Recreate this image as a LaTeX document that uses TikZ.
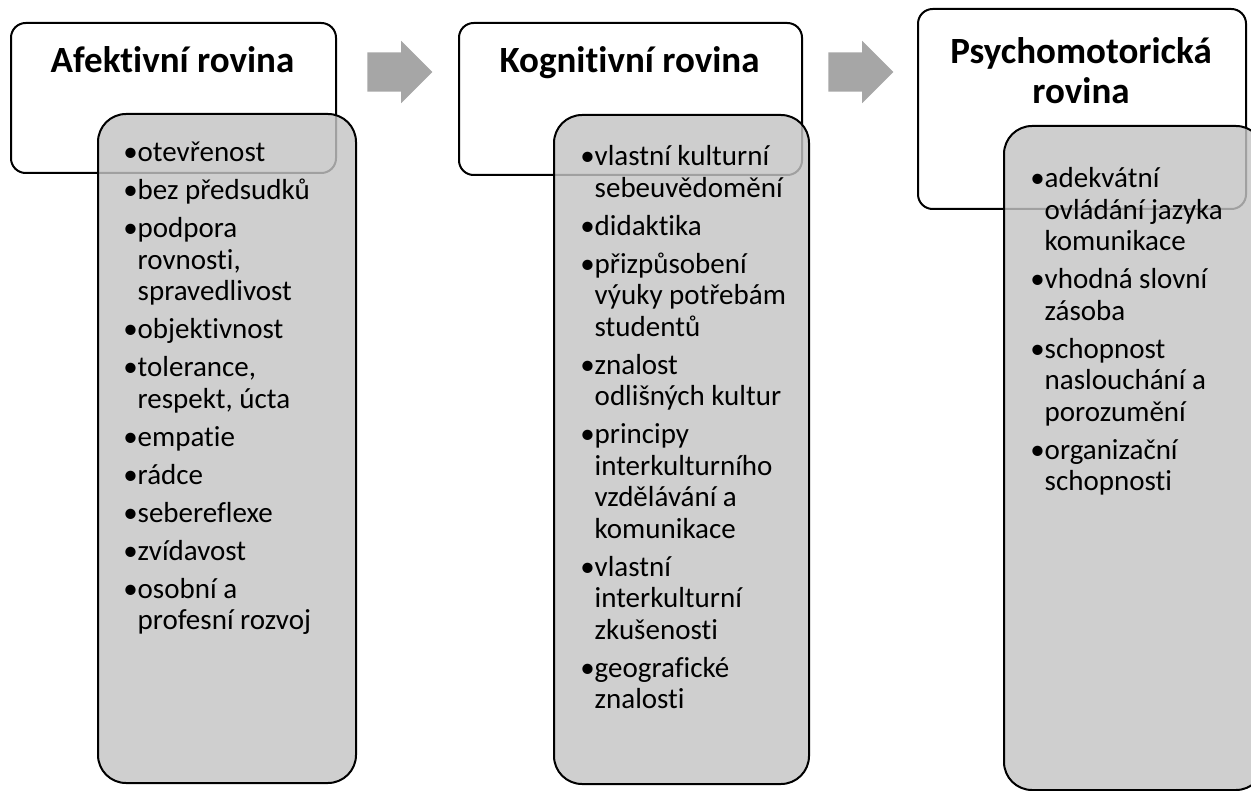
\documentclass[tikz,border=0pt]{standalone}
\usepackage{fontspec}
\setmainfont{Carlito}[Ligatures=NoCommon]
\usetikzlibrary{shapes.arrows}

\newcommand{\nx}{\\[4.9pt]}

\tikzset{
  hdr/.style={draw, line width=1.5pt, rounded corners=11pt, fill=white,
    anchor=north west, inner sep=0},
  lst/.style={draw, line width=1.5pt, rounded corners=21pt, fill=black!23,
    fill opacity=0.82, anchor=north west, inner sep=0},
  ttl/.style={font=\fontsize{27.75}{28.5}\selectfont\bfseries, inner sep=0,
    anchor=base},
  itm/.style={font=\fontsize{21.75}{23.6}\selectfont, inner sep=0,
    anchor=base west},
  flow/.style={single arrow, fill=black!35, draw=none, inner xsep=0,
    inner ysep=14.6pt, minimum height=48.75pt, minimum width=46.5pt,
    single arrow head extend=8.6pt, anchor=tail}
}

\begin{document}
\begin{tikzpicture}[x=0.75pt, y=-0.75pt]
\useasboundingbox (0,0) rectangle (1251,791);

% first column
\node[hdr, minimum width=243.75pt, minimum height=112.5pt] (1) at (10,22) {};
\node[ttl] (t1) at (172.5,73) {Afektivní rovina};
\node[lst, minimum width=193.5pt, minimum height=501.75pt] (4) at (97,113) {};
\node[itm] (7) at (123,162)
{\begin{tabular}[t]{@{}l@{}l@{}}
•&otevřenost\nx
•&bez předsudků\nx
•&podpora\\
&rovnosti,\\
&spravedlivost\nx
•&objektivnost\nx
•&tolerance,\\
&respekt, úcta\nx
•&empatie\nx
•&rádce\nx
•&sebereflexe\nx
•&zvídavost\nx
•&osobní a\\
&profesní rozvoj
\end{tabular}};

% second column
\node[hdr, minimum width=257.25pt, minimum height=114pt] (2) at (458,22) {};
\node[ttl] (t2) at (629.5,73) {Kognitivní rovina};
\node[lst, minimum width=191.25pt, minimum height=501.75pt] (5) at (553,114) {};
\node[itm] (8) at (580,166)
{\begin{tabular}[t]{@{}l@{}l@{}}
•&vlastní kulturní\\
&sebeuvědomění\nx
•&didaktika\nx
•&přizpůsobení\\
&výuky potřebám\\
&studentů\nx
•&znalost\\
&odlišných kultur\nx
•&principy\\
&interkulturního\\
&vzdělávání a\\
&komunikace\nx
•&vlastní\\
&interkulturní\\
&zkušenosti\nx
•&geografické\\
&znalosti
\end{tabular}};

% third column
\node[hdr, minimum width=246pt, minimum height=150pt] (3) at (917,8) {};
\node[ttl] (t3) at (1081,64)
{\begin{tabular}[t]{@{}c@{}}Psychomotorická\\[1.5pt] rovina\end{tabular}};
\node[lst, minimum width=195pt, minimum height=498pt] (6) at (1003,125) {};
\node[itm] (9) at (1030,188)
{\begin{tabular}[t]{@{}l@{}l@{}}
•&adekvátní\\
&ovládání jazyka\\
&komunikace\nx
•&vhodná slovní\\
&zásoba\nx
•&schopnost\\
&naslouchání a\\
&porozumění\nx
•&organizační\\
&schopnosti
\end{tabular}};

% arrows between the columns
\node[flow] (10) at (367,72) {};
\node[flow] (11) at (828,72) {};

\end{tikzpicture}
\end{document}
